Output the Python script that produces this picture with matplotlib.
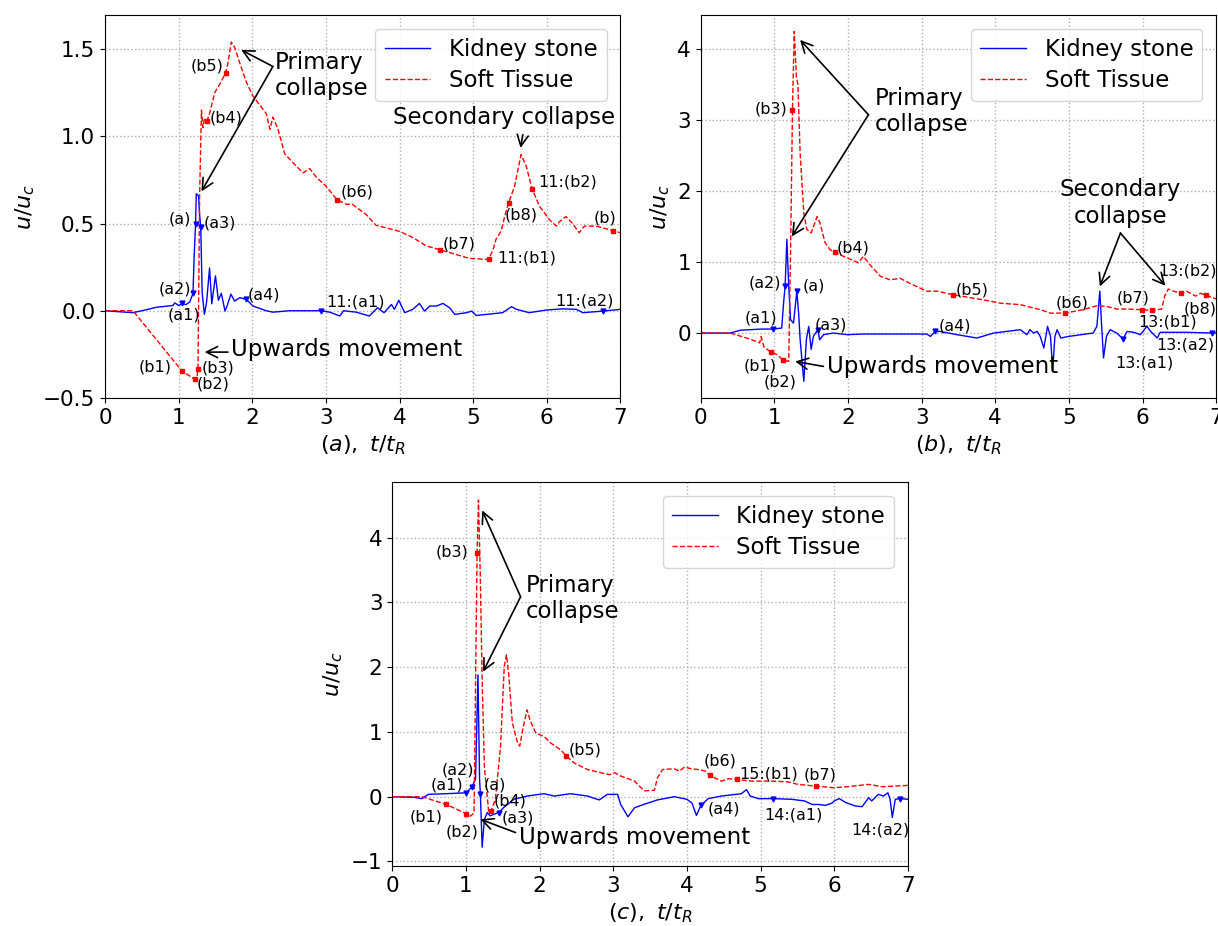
import numpy as np
import matplotlib.pyplot as plt

# ---------------- panel (a) ----------------
a_stone_t = [0, 0.38, 0.5, 0.7, 0.92, 0.95, 1.0, 1.05, 1.1, 1.15, 1.195, 1.21, 1.23, 1.24, 1.27,
             1.285, 1.30, 1.32, 1.35, 1.38, 1.42, 1.45, 1.50, 1.54, 1.58, 1.63, 1.66, 1.71, 1.76,
             1.83, 1.92, 2.01, 2.19, 2.28, 2.5, 2.94, 3.05, 3.19, 3.24, 3.41, 3.59, 3.70, 3.79,
             3.89, 3.93, 3.99, 4.07, 4.18, 4.27, 4.34, 4.41, 4.50, 4.59, 4.68, 4.75, 4.91, 4.98,
             5.04, 5.18, 5.40, 5.52, 5.59, 5.76, 5.99, 6.22, 6.40, 6.49, 6.76, 7.0]
a_stone_u = [0, -0.011, 0.0, 0.02, 0.03, 0.045, 0.03, 0.042, 0.035, 0.05, 0.099, 0.3, 0.50, 0.67, 0.66,
             0.55, 0.48, 0.1, -0.02, 0.05, 0.245, 0.04, 0.2, 0.06, 0.1, -0.002, 0.03, 0.095, 0.055,
             0.075, 0.065, 0.027, 0.0, -0.008, 0.0, 0.0, -0.008, -0.03, 0.0, -0.008, -0.03, 0.017, -0.011,
             0.036, 0.008, 0.06, -0.011, 0.008, 0.042, -0.002, 0.027, 0.027, 0.042, 0.017, -0.021, -0.011, -0.002,
             -0.027, -0.021, -0.011, 0.023, 0.008, -0.011, 0.004, 0.011, 0.008, -0.011, -0.002, 0.008]
a_tissue_t = [0, 0.38, 1.045, 1.218, 1.25, 1.263, 1.285, 1.31, 1.33, 1.35, 1.386, 1.42, 1.49, 1.56,
              1.638, 1.67, 1.715, 1.76, 1.83, 1.92, 2.01, 2.10, 2.19, 2.24, 2.28, 2.35, 2.44, 2.55,
              2.69, 2.78, 2.87, 3.0, 3.15, 3.28, 3.36, 3.55, 3.68, 4.0, 4.18, 4.36, 4.543, 4.77,
              4.95, 5.21, 5.27, 5.31, 5.38, 5.43, 5.48, 5.56, 5.65, 5.72, 5.80, 5.90, 6.04, 6.13,
              6.17, 6.26, 6.35, 6.44, 6.51, 6.67, 6.76, 6.905, 7.0]
a_tissue_u = [0, 0, -0.345, -0.393, -0.38, -0.332, 0.66, 1.15, 1.05, 1.10, 1.09, 1.13, 1.25, 1.30,
              1.362, 1.42, 1.54, 1.51, 1.42, 1.31, 1.23, 1.18, 1.13, 1.04, 1.11, 1.04, 0.9, 0.85,
              0.79, 0.815, 0.765, 0.715, 0.637, 0.61, 0.61, 0.55, 0.49, 0.455, 0.42, 0.372, 0.35, 0.322,
              0.30, 0.294, 0.35, 0.41, 0.457, 0.544, 0.617, 0.71, 0.895, 0.83, 0.698, 0.60, 0.52, 0.485,
              0.51, 0.54, 0.50, 0.447, 0.485, 0.485, 0.475, 0.459, 0.447]
a_stone_mt = [1.23, 1.30, 1.195, 1.05, 1.92, 2.94, 6.76]
a_stone_mu = [0.50, 0.48, 0.099, 0.042, 0.065, 0.0, -0.002]
a_stone_lab = ['(a)', '(a3)', '(a2)', '(a1)', '(a4)', '11:(a1)', '11:(a2)']
a_stone_off = [(-16, 5), (19, 4), (-18, 4), (2, -12), (18, 4), (34, 9), (-18, 10)]
a_tissue_mt = [1.045, 1.218, 1.263, 1.386, 1.638, 3.15, 4.543, 5.21, 5.48, 5.80, 6.905]
a_tissue_mu = [-0.345, -0.393, -0.332, 1.09, 1.362, 0.637, 0.35, 0.294, 0.617, 0.698, 0.459]
a_tissue_lab = ['(b1)', '(b2)', '(b3)', '(b4)', '(b5)', '(b6)', '(b7)', '11:(b1)', '(b8)', '11:(b2)', '(b)']
a_tissue_off = [(-27, 4), (18, -5), (20, 1), (19, 3), (-19, 7), (20, 8), (20, 6), (38, 1), (13, -12), (36, 7), (-8, 13)]

# ---------------- panel (b) ----------------
b_stone_t = [0, 0.4, 0.54, 0.83, 0.98, 1.1, 1.125, 1.146, 1.17, 1.195, 1.22, 1.26, 1.305, 1.33, 1.35,
             1.40, 1.435, 1.467, 1.50, 1.53, 1.59, 1.615, 1.67, 1.80, 1.99, 2.2, 2.6, 3.07, 3.12,
             3.185, 3.25, 3.48, 3.75, 3.98, 4.34, 4.43, 4.47, 4.52, 4.57, 4.61, 4.66, 4.71, 4.75,
             4.78, 4.81, 4.84, 4.89, 5.0, 5.33, 5.38, 5.42, 5.445, 5.47, 5.51, 5.56, 5.65, 5.737,
             5.79, 5.88, 5.97, 6.06, 6.11, 6.2, 6.24, 6.6, 6.946, 7.0]
b_stone_u = [0, 0, 0.04, 0.056, 0.056, 0.07, 0.42, 0.656, 1.32, 0.66, 0.19, 0.14, 0.586, 0.28, -0.09,
             -0.68, -0.09, 0.094, -0.23, -0.047, 0.046, -0.094, -0.023, 0.0, -0.023, -0.014, -0.014, -0.014, -0.047,
             0.023, 0.023, -0.023, -0.07, 0.0, 0.047, -0.023, 0.047, 0.0, 0.023, -0.047, -0.21, 0.094, -0.047,
             -0.52, -0.047, 0.047, -0.07, -0.047, 0.0, 0.094, 0.59, 0.094, -0.35, -0.047, 0.047, 0.0, -0.085,
             0.023, 0.01, -0.023, 0.094, 0.023, -0.07, 0.01, 0.01, 0.0, 0.0]
b_tissue_t = [0, 0.4, 0.67, 0.80, 0.82, 0.86, 0.955, 1.04, 1.113, 1.195, 1.22, 1.246, 1.27, 1.30, 1.32,
              1.35, 1.40, 1.44, 1.50, 1.58, 1.62, 1.69, 1.76, 1.817, 1.94, 2.14, 2.21, 2.30, 2.44,
              2.57, 2.71, 2.84, 3.07, 3.21, 3.424, 3.71, 3.93, 4.07, 4.34, 4.61, 4.75, 4.952, 5.2,
              5.38, 5.51, 5.65, 5.79, 5.99, 6.13, 6.26, 6.30, 6.35, 6.42, 6.525, 6.60, 6.72, 6.79,
              6.865, 7.0]
b_tissue_u = [0, 0, -0.085, -0.14, -0.05, -0.2, -0.268, -0.305, -0.376, -0.4, 1.13, 3.14, 4.25, 3.6, 3.5,
              2.54, 1.69, 1.46, 1.41, 1.64, 1.55, 1.27, 1.17, 1.14, 1.08, 0.99, 1.08, 0.96, 0.80,
              0.75, 0.77, 0.70, 0.59, 0.59, 0.54, 0.49, 0.45, 0.42, 0.40, 0.33, 0.28, 0.282, 0.33,
              0.385, 0.376, 0.338, 0.338, 0.328, 0.318, 0.338, 0.52, 0.62, 0.59, 0.563, 0.59, 0.52, 0.56,
              0.53, 0.48]
b_stone_mt = [1.146, 1.305, 0.98, 1.59, 3.185, 5.737, 6.946]
b_stone_mu = [0.656, 0.586, 0.056, 0.046, 0.023, -0.085, 0.0]
b_stone_lab = ['(a2)', '(a)', '(a1)', '(a3)', '(a4)', '13:(a1)', '13:(a2)']
b_stone_off = [(-20, 3), (17, 5), (-12, 11), (13, 5), (20, 5), (21, -24), (-27, -12)]
b_tissue_mt = [1.246, 0.955, 1.113, 1.817, 3.424, 4.952, 5.99, 6.13, 6.525, 6.865]
b_tissue_mu = [3.14, -0.268, -0.376, 1.14, 0.54, 0.282, 0.328, 0.318, 0.563, 0.53]
b_tissue_lab = ['(b3)', '(b1)', '(b2)', '(b4)', '(b5)', '(b6)', '(b7)', '13:(b1)', '13:(b2)', '(b8)']
b_tissue_off = [(-21, 1), (-11, -14), (-3, -22), (19, 4), (19, 5), (7, 10), (-9, 12), (15, -12), (6, 22), (-6, -14)]

# ---------------- panel (c) ----------------
c_stone_t = [0, 0.3, 0.4, 0.49, 0.7, 1.005, 1.083, 1.13, 1.163, 1.185, 1.196, 1.22, 1.25, 1.29, 1.33,
             1.38, 1.446, 1.51, 1.65, 1.83, 2.06, 2.2, 2.42, 2.65, 2.81, 2.92, 3.06, 3.1, 3.2, 3.29,
             3.42, 3.6, 3.83, 4.0, 4.07, 4.13, 4.19, 4.29, 4.47, 4.74, 4.81, 4.86, 4.97, 5.166, 5.42,
             5.6, 5.7, 5.79, 5.88, 5.97, 6.0, 6.07, 6.16, 6.29, 6.38, 6.47, 6.51, 6.6, 6.67, 6.73,
             6.76, 6.79, 6.83, 6.9, 7.0]
c_stone_u = [0, -0.01, -0.03, 0.036, 0.045, 0.06, 0.154, 0.27, 1.88, 0.27, 0.035, -0.78, -0.35, -0.246, -0.297,
             -0.27, -0.246, -0.17, -0.04, 0.01, 0.046, 0.01, 0.046, 0.01, -0.05, 0.036, 0.036, -0.117, -0.31, -0.17,
             -0.117, -0.05, 0.0, -0.04, -0.1, -0.29, -0.134, -0.03, 0.01, 0.046, 0.11, 0.01, -0.03, -0.03, -0.04,
             -0.066, -0.12, -0.12, -0.134, -0.1, -0.066, -0.03, -0.092, -0.144, -0.154, -0.015, -0.066, 0.036, 0.01, 0.06,
             -0.04, -0.32, -0.04, -0.03, -0.04]
c_tissue_t = [0, 0.4, 0.728, 1.005, 1.06, 1.11, 1.151, 1.17, 1.195, 1.22, 1.25, 1.31, 1.342, 1.40, 1.47,
              1.52, 1.55, 1.58, 1.63, 1.70, 1.73, 1.78, 1.83, 1.87, 1.95, 2.06, 2.15, 2.29, 2.356,
              2.47, 2.65, 2.83, 2.95, 3.02, 3.1, 3.29, 3.42, 3.56, 3.6, 3.67, 3.83, 3.9, 3.97, 4.06,
              4.15, 4.24, 4.32, 4.38, 4.47, 4.56, 4.675, 4.88, 5.2, 5.38, 5.51, 5.757, 6.0, 6.18,
              6.47, 6.65, 7.0]
c_tissue_u = [0, 0, -0.118, -0.262, -0.3, -0.25, 3.76, 4.58, 3.4, 1.8, 0.47, -0.25, -0.22, -0.04, 0.78,
              2.01, 2.19, 1.9, 1.14, 0.83, 0.78, 1.09, 1.34, 1.18, 0.98, 0.93, 0.83, 0.72, 0.635,
              0.52, 0.42, 0.37, 0.34, 0.37, 0.32, 0.24, 0.09, 0.1, 0.29, 0.42, 0.43, 0.395, 0.46, 0.43,
              0.42, 0.40, 0.33, 0.29, 0.24, 0.277, 0.266, 0.24, 0.24, 0.226, 0.19, 0.163, 0.138, 0.154,
              0.19, 0.154, 0.174]
c_stone_mt = [1.005, 1.083, 1.196, 1.446, 4.19, 5.166, 6.9]
c_stone_mu = [0.06, 0.154, 0.035, -0.246, -0.134, -0.03, -0.03]
c_stone_lab = ['(a1)', '(a2)', '(a)', '(a3)', '(a4)', '14:(a1)', '14:(a2)']
c_stone_off = [(-19, 8), (-14, 17), (14, 9), (19, -5), (23, -4), (21, -16), (-20, -31)]
c_tissue_mt = [0.728, 1.005, 1.151, 1.342, 2.356, 4.32, 4.675, 5.757]
c_tissue_mu = [-0.118, -0.262, 3.76, -0.22, 0.635, 0.33, 0.266, 0.163]
c_tissue_lab = ['(b1)', '(b2)', '(b3)', '(b4)', '(b5)', '(b6)', '15:(b1)', '(b7)']
c_tissue_off = [(-20, -13), (-4, -18), (-25, 1), (19, 10), (19, 6), (10, 14), (32, 5), (4, 11)]

BIG = 16.5


def arrow(ax, start, end):
    ax.annotate('', xy=end, xytext=start,
                arrowprops=dict(arrowstyle='->', color='k', lw=1.2, mutation_scale=20,
                                shrinkA=0, shrinkB=0))


def panel(ax, st, su, tt, tu, smt, smu, slab, soff, tmt, tmu, tlab, toff, letter, ylim):
    ax.plot(st, su, 'b-', lw=1.0, label='Kidney stone')
    ax.plot(tt, tu, 'r--', lw=1.0, label='Soft Tissue')
    ax.plot(smt, smu, 'bv', ms=3.5)
    ax.plot(tmt, tmu, 'rs', ms=3.5)
    for x, y, s, o in zip(smt, smu, slab, soff):
        ax.annotate(s, (x, y), xytext=o, textcoords='offset pixels', ha='center', va='center', fontsize=11.5)
    for x, y, s, o in zip(tmt, tmu, tlab, toff):
        ax.annotate(s, (x, y), xytext=o, textcoords='offset pixels', ha='center', va='center', fontsize=11.5)
    ax.set_xlim(0, 7)
    ax.set_ylim(*ylim)
    ax.grid(True, linestyle=':', color='#b0b0b0', lw=1)
    ax.tick_params(labelsize=15.5)
    ax.set_xlabel(r'$(%s),\ t/t_R$' % letter, fontsize=16)
    ax.set_ylabel(r'$u/u_c$', fontsize=16)
    ax.legend(loc='upper right', fontsize=BIG, labelspacing=0.35, borderaxespad=0.6)


fig = plt.figure(figsize=(12.18, 9.26), dpi=100)
ax1 = fig.add_axes([0.0862, 0.5702, 0.4232, 0.4136])
ax2 = fig.add_axes([0.5753, 0.5702, 0.4232, 0.4136])
ax3 = fig.add_axes([0.3221, 0.0648, 0.4232, 0.4148])

panel(ax1, a_stone_t, a_stone_u, a_tissue_t, a_tissue_u, a_stone_mt, a_stone_mu, a_stone_lab, a_stone_off,
      a_tissue_mt, a_tissue_mu, a_tissue_lab, a_tissue_off, 'a', (-0.5, 1.695))
ax1.set_yticks([-0.5, 0.0, 0.5, 1.0, 1.5])
ax1.text(2.31, 1.348, 'Primary\ncollapse', fontsize=BIG, ha='left', va='center')
arrow(ax1, (2.28, 1.40), (1.85, 1.495))
arrow(ax1, (2.28, 1.40), (1.31, 0.684))
ax1.text(5.42, 1.109, 'Secondary collapse', fontsize=BIG, ha='center', va='center')
arrow(ax1, (5.674, 1.009), (5.643, 0.933))
ax1.text(1.716, -0.221, 'Upwards movement', fontsize=BIG, ha='left', va='center')
arrow(ax1, (1.67, -0.237), (1.353, -0.237))

panel(ax2, b_stone_t, b_stone_u, b_tissue_t, b_tissue_u, b_stone_mt, b_stone_mu, b_stone_lab, b_stone_off,
      b_tissue_mt, b_tissue_mu, b_tissue_lab, b_tissue_off, 'b', (-0.915, 4.48))
ax2.text(2.369, 3.12, 'Primary\ncollapse', fontsize=BIG, ha='left', va='center')
arrow(ax2, (2.278, 3.075), (1.349, 4.13))
arrow(ax2, (2.278, 3.075), (1.237, 1.36))
ax2.text(5.70, 1.83, 'Secondary\ncollapse', fontsize=BIG, ha='center', va='center')
arrow(ax2, (5.70, 1.408), (5.42, 0.656))
arrow(ax2, (5.70, 1.408), (6.31, 0.666))
ax2.text(1.713, -0.47, 'Upwards movement', fontsize=BIG, ha='left', va='center')
arrow(ax2, (1.666, -0.47), (1.282, -0.40))

panel(ax3, c_stone_t, c_stone_u, c_tissue_t, c_tissue_u, c_stone_mt, c_stone_mu, c_stone_lab, c_stone_off,
      c_tissue_mt, c_tissue_mu, c_tissue_lab, c_tissue_off, 'c', (-1.07, 4.86))
ax3.text(1.809, 3.06, 'Primary\ncollapse', fontsize=BIG, ha='left', va='center')
arrow(ax3, (1.742, 3.086), (1.22, 4.42))
arrow(ax3, (1.742, 3.086), (1.233, 1.93))
ax3.text(1.719, -0.631, 'Upwards movement', fontsize=BIG, ha='left', va='center')
arrow(ax3, (1.674, -0.554), (1.196, -0.349))

fig.savefig('out.png', dpi=100)
